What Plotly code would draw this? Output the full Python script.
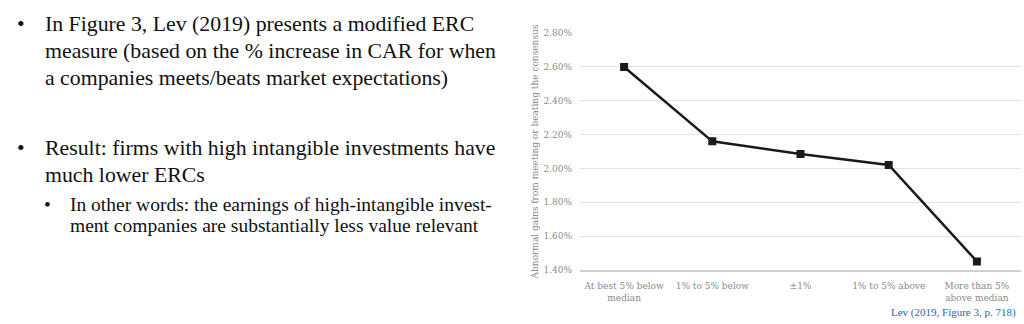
import plotly.graph_objects as go

categories = ["At best 5% below<br>median", "1% to 5% below", "±1%", "1% to 5% above", "More than 5%<br>above median"]
values = [2.60, 2.16, 2.085, 2.02, 1.45]
y_ticks = [1.40, 1.60, 1.80, 2.00, 2.20, 2.40, 2.60, 2.80]
y_tick_labels = ["1.40%", "1.60%", "1.80%", "2.00%", "2.20%", "2.40%", "2.60%", "2.80%"]
y_title = "Abnormal gains from meeting or beating the consensus"
source = "Lev (2019, Figure 3, p. 718)"

bullets = [
    ("•", 15, 20, 21.8),
    ("•", 15, 148, 21.8),
    ("•", 42, 206, 19.5),
]
lines = [
    ("In Figure 3, Lev (2019) presents a modified ERC", 43, 20, 21.8),
    ("measure (based on the % increase in CAR for when", 43, 47, 21.8),
    ("a companies meets/beats market expectations)", 43, 75, 21.8),
    ("Result: firms with high intangible investments have", 43, 148, 21.8),
    ("much lower ERCs", 43, 175, 21.8),
    ("In other words: the earnings of high-intangible invest-", 68, 206, 19.5),
    ("ment companies are substantially less value relevant", 68, 228, 19.5),
]

W, H = 1024, 324
gray = "#8a8a8a"
serif = "Liberation Serif, Times New Roman, Times, serif"

fig = go.Figure()
fig.add_trace(go.Scatter(
    x=categories, y=values, mode="lines+markers",
    line=dict(color="#1a1a1a", width=2.5),
    marker=dict(symbol="square", size=8, color="#1a1a1a"),
    showlegend=False, hoverinfo="skip",
))

ann = []
for txt, x, y, s in bullets + lines:
    ann.append(dict(text=txt, x=x / W, y=1 - y / H, xref="paper", yref="paper",
                    xanchor="left", yanchor="middle", showarrow=False,
                    font=dict(family=serif, size=s, color="#111111")))
ann.append(dict(text=source, x=1018 / W, y=1 - 317 / H, xref="paper", yref="paper",
                xanchor="right", yanchor="middle", showarrow=False,
                font=dict(family=serif, size=11, color="#2e64ad")))

fig.update_layout(
    width=W, height=H,
    margin=dict(l=0, r=0, t=0, b=0),
    paper_bgcolor="white", plot_bgcolor="white",
    annotations=ann,
    xaxis=dict(domain=[580 / W, 1021 / W], showgrid=False, showline=True,
               linecolor="#d0d0d0", linewidth=1.5, ticks="",
               ticklabelstandoff=7,
               tickfont=dict(family="DejaVu Serif", size=9, color=gray),
               range=[-0.5, 4.5]),
    yaxis=dict(domain=[(H - 273.3) / H, (H - 29) / H], range=[1.40, 2.80],
               tickvals=y_ticks, ticktext=y_tick_labels,
               showgrid=True, gridcolor="#e3e3e3", gridwidth=1, zeroline=False,
               showline=False, ticks="", ticklabelstandoff=7,
               tickfont=dict(family="DejaVu Serif", size=9, color=gray),
               title=dict(text=y_title, standoff=3,
                          font=dict(family="DejaVu Serif", size=9, color=gray))),
)

fig.write_html("out.html")
